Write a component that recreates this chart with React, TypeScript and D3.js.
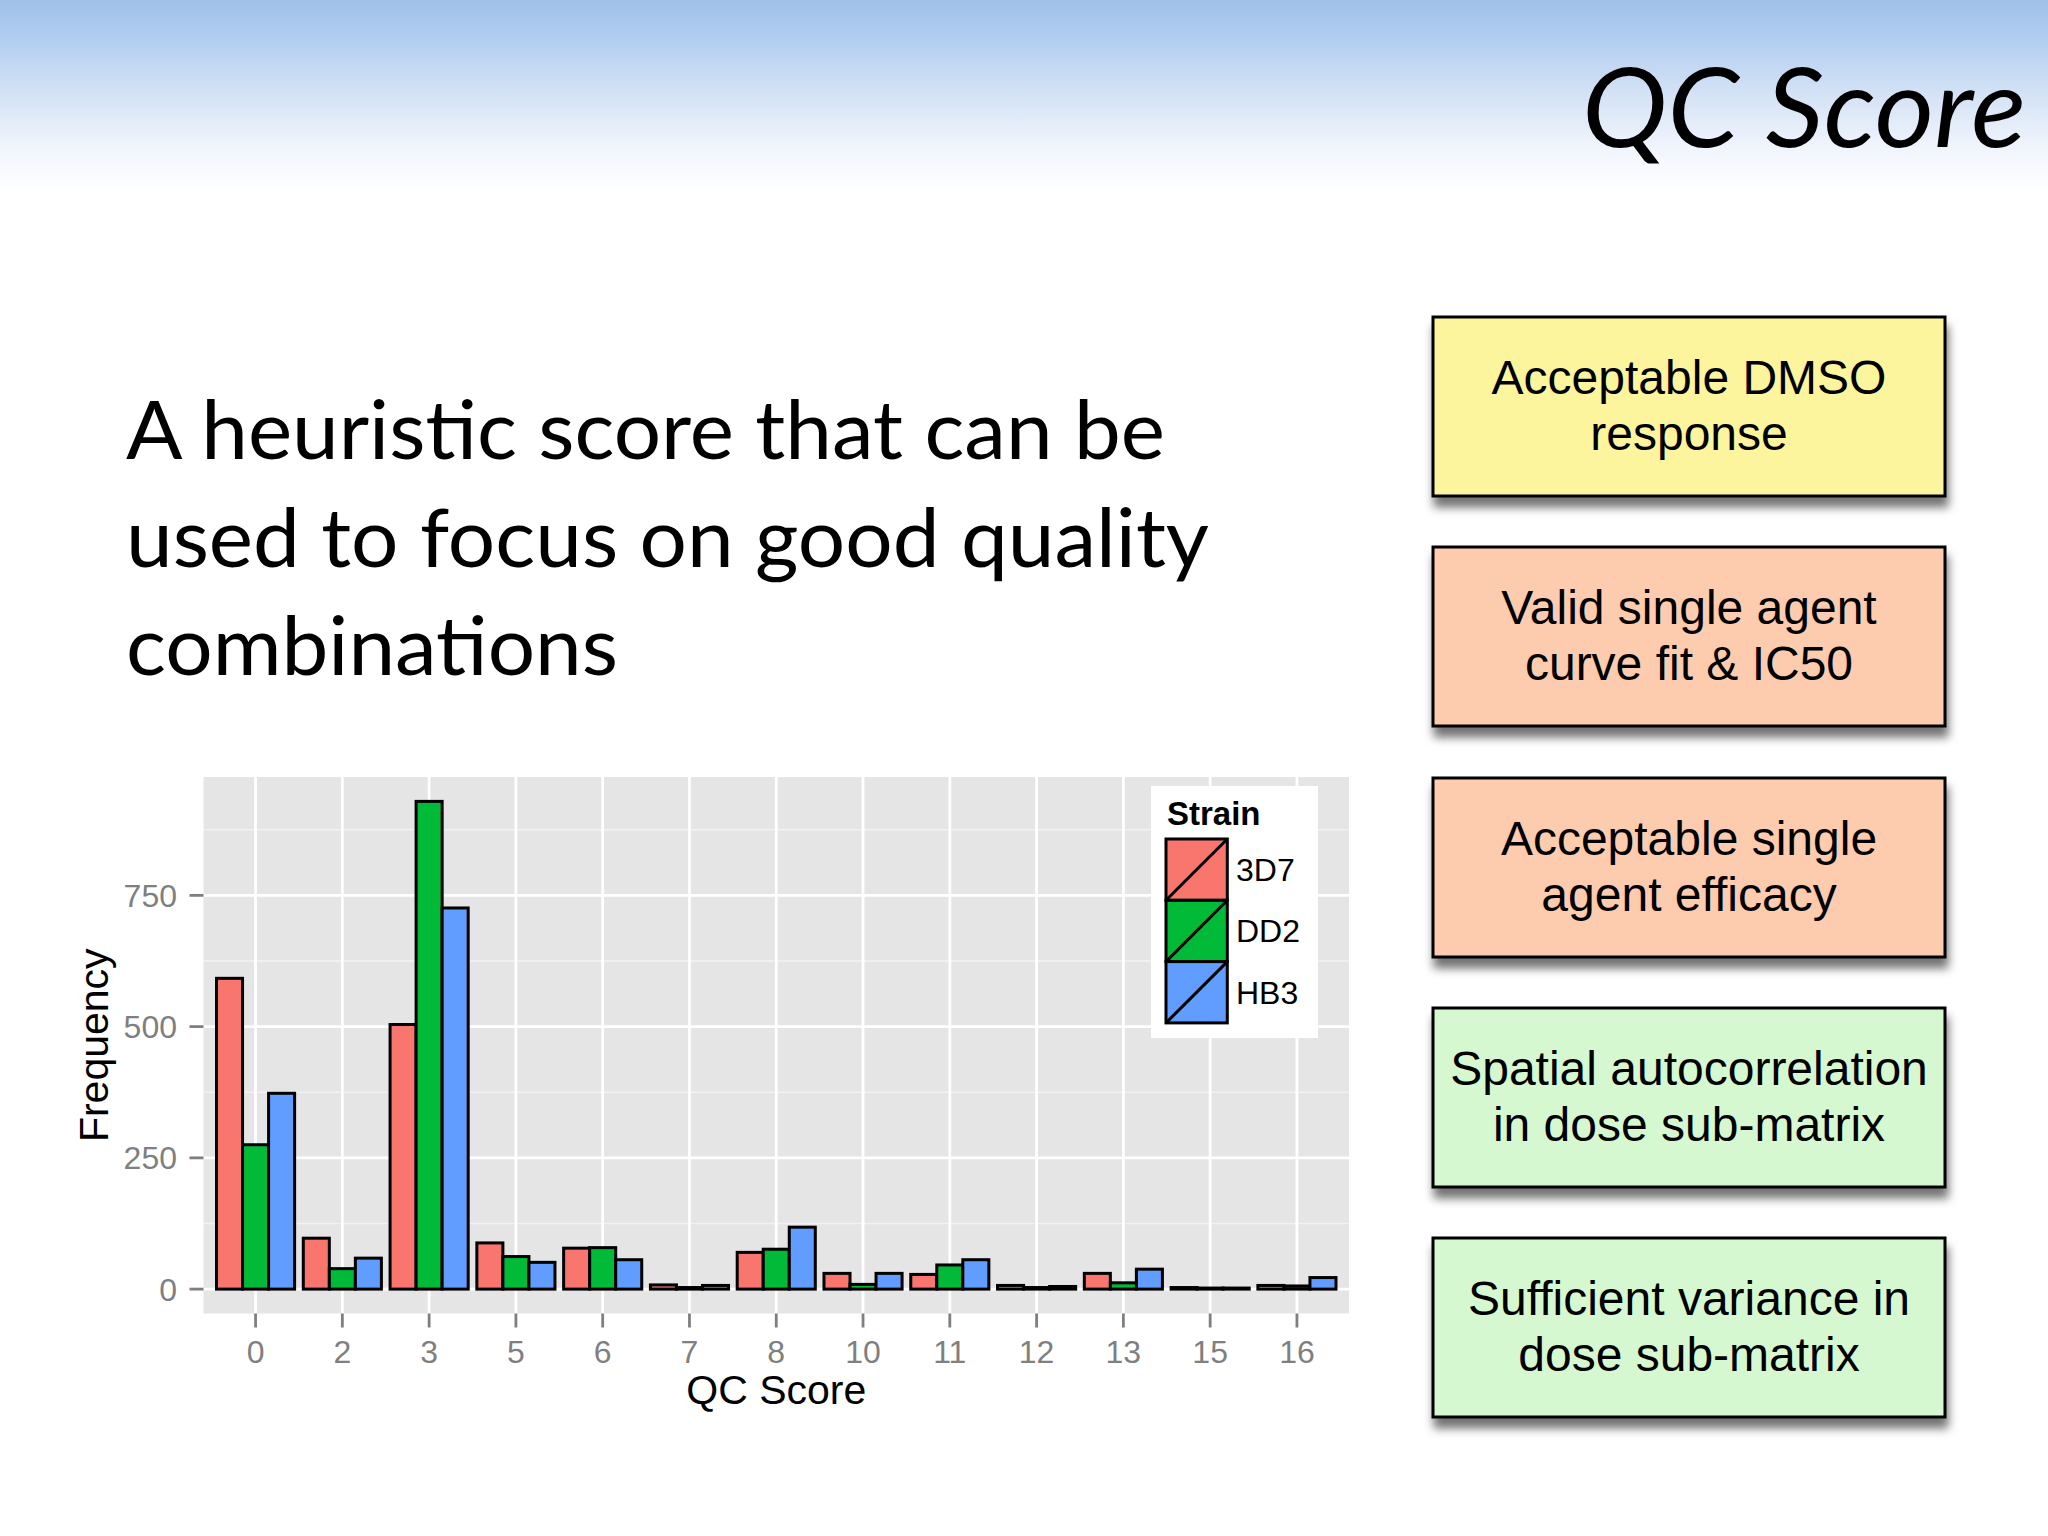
import React from "react";
import * as d3 from "d3";

const categories = ["0", "2", "3", "5", "6", "7", "8", "10", "11", "12", "13", "15", "16"];
const strains = ["3D7", "DD2", "HB3"];
const values3D7 = [592, 97, 504, 88, 78, 8, 70, 30, 28, 7, 30, 3, 7];
const valuesDD2 = [275, 39, 929, 62, 79, 3, 76, 9, 46, 3, 12, 2, 6];
const valuesHB3 = [373, 59, 726, 51, 56, 7, 118, 30, 56, 5, 38, 2, 22];
const seriesValues = [values3D7, valuesDD2, valuesHB3];
const strainColors = ["#F8766D", "#00BA38", "#619CFF"];
const yTicks = [0, 250, 500, 750];
const yMinorTicks = [125, 375, 625, 875];

const slideTitle = "QC Score";
const bodyLines = ["A heuristic score that can be", "used to focus on good quality", "combinations"];
const bodyWidths = [1039, 1083, 492];
const boxTexts = [
  ["Acceptable DMSO", "response"],
  ["Valid single agent", "curve fit & IC50"],
  ["Acceptable single", "agent efficacy"],
  ["Spatial autocorrelation", "in dose sub-matrix"],
  ["Sufficient variance in", "dose sub-matrix"],
];
const boxColors = ["#FCF59D", "#FDCBAE", "#FDCBAE", "#D5F8D0", "#D5F8D0"];

const P = { left: 203.5, right: 1349, top: 777, bottom: 1313.5 };

export default function App() {
  const x = d3.scalePoint<string>().domain(categories).range([P.left, P.right]).padding(0.6);
  const step = x.step();
  const all = seriesValues.flat();
  const maxV = d3.max(all) as number;
  const ex = maxV * 0.05;
  const y = d3.scaleLinear().domain([-ex, maxV + ex]).range([P.bottom, P.top]);
  const barW = step * 0.3;

  const boxX = 1433, boxW = 512, boxH = 179;
  const boxYs = [317, 547, 778, 1008, 1238];

  const legend = { x: 1151, y: 786, w: 167, h: 252, keyX: 1166, keyY: 839, key: 61.3 };

  return (
    <svg
      width={2048}
      height={1536}
      style={{ position: "absolute", left: 0, top: 0, background: "#fff" }}
      xmlns="http://www.w3.org/2000/svg"
    >
      <defs>
        <linearGradient id="hdr" x1="0" y1="0" x2="0" y2="1">
          <stop offset="0" stopColor="#a0c0e8" />
          <stop offset="0.2" stopColor="#b1cdf1" />
          <stop offset="0.45" stopColor="#cfdff4" />
          <stop offset="0.75" stopColor="#eef3fc" />
          <stop offset="1" stopColor="#ffffff" />
        </linearGradient>
        <filter id="shadow" x="-10%" y="-10%" width="120%" height="140%">
          <feDropShadow dx="2" dy="10" stdDeviation="5" floodColor="#000" floodOpacity="0.55" />
        </filter>
      </defs>
      <rect x={0} y={0} width={2048} height={1536} fill="#fff" />
      <rect x={0} y={0} width={2048} height={190} fill="url(#hdr)" />
      <text
        x={2026}
        y={147}
        textAnchor="end"
        fontFamily="Lato, 'Open Sans', sans-serif"
        fontStyle="italic"
        fontSize={111}
        textLength={444}
        lengthAdjust="spacingAndGlyphs"
        fill="#000"
      >
        {slideTitle}
      </text>

      {bodyLines.map((l, i) => (
        <text
          key={l}
          x={126}
          y={459 + i * 108}
          fontFamily="Lato, 'Open Sans', sans-serif"
          fontSize={82}
          textLength={bodyWidths[i]}
          lengthAdjust="spacingAndGlyphs"
          fill="#000"
        >
          {l}
        </text>
      ))}

      {/* Chart panel */}
      <rect x={P.left} y={P.top} width={P.right - P.left} height={P.bottom - P.top} fill="#E5E5E5" />
      {yMinorTicks.map((t) => (
        <line key={"m" + t} x1={P.left} x2={P.right} y1={y(t)} y2={y(t)} stroke="#F2F2F2" strokeWidth={1.4} />
      ))}
      {yTicks.map((t) => (
        <line key={"g" + t} x1={P.left} x2={P.right} y1={y(t)} y2={y(t)} stroke="#fff" strokeWidth={2.8} />
      ))}
      {categories.map((c) => (
        <line key={"v" + c} x1={x(c)} x2={x(c)} y1={P.top} y2={P.bottom} stroke="#fff" strokeWidth={2.8} />
      ))}
      {categories.map((c, ci) =>
        strains.map((s, si) => {
          const v = seriesValues[si][ci];
          const bx = (x(c) as number) - step * 0.45 + si * barW;
          return (
            <rect
              key={c + s}
              x={bx}
              y={y(v)}
              width={barW}
              height={y(0) - y(v)}
              fill={strainColors[si]}
              stroke="#000"
              strokeWidth={3}
            />
          );
        })
      )}
      {/* y axis */}
      {yTicks.map((t) => (
        <g key={"yt" + t}>
          <line x1={P.left - 14} x2={P.left} y1={y(t)} y2={y(t)} stroke="#7F7F7F" strokeWidth={2.8} />
          <text
            x={177}
            y={y(t)}
            dy="0.36em"
            textAnchor="end"
            fontFamily="'Liberation Sans', Arial, sans-serif"
            fontSize={32}
            fill="#7F7F7F"
          >
            {t}
          </text>
        </g>
      ))}
      {categories.map((c) => (
        <g key={"xt" + c}>
          <line x1={x(c)} x2={x(c)} y1={P.bottom} y2={P.bottom + 14} stroke="#7F7F7F" strokeWidth={2.8} />
          <text
            x={x(c)}
            y={1363}
            textAnchor="middle"
            fontFamily="'Liberation Sans', Arial, sans-serif"
            fontSize={32}
            fill="#7F7F7F"
          >
            {c}
          </text>
        </g>
      ))}
      <text
        x={(P.left + P.right) / 2}
        y={1404}
        textAnchor="middle"
        fontFamily="'Liberation Sans', Arial, sans-serif"
        fontSize={41}
        fill="#000"
      >
        QC Score
      </text>
      <text
        transform={`translate(108,${(P.top + P.bottom) / 2}) rotate(-90)`}
        textAnchor="middle"
        fontFamily="'Liberation Sans', Arial, sans-serif"
        fontSize={41}
        fill="#000"
      >
        Frequency
      </text>

      {/* legend */}
      <rect x={legend.x} y={legend.y} width={legend.w} height={legend.h} fill="#fff" />
      <text
        x={1167}
        y={825}
        fontFamily="'Liberation Sans', Arial, sans-serif"
        fontWeight="bold"
        fontSize={33}
        fill="#000"
      >
        Strain
      </text>
      {strains.map((s, i) => {
        const ky = legend.keyY + i * legend.key;
        return (
          <g key={"lg" + s}>
            <rect x={legend.keyX} y={ky} width={legend.key} height={legend.key} fill={strainColors[i]} stroke="#000" strokeWidth={3} />
            <line x1={legend.keyX} y1={ky + legend.key} x2={legend.keyX + legend.key} y2={ky} stroke="#000" strokeWidth={3} />
            <text
              x={1236}
              y={ky + legend.key / 2}
              dy="0.36em"
              fontFamily="'Liberation Sans', Arial, sans-serif"
              fontSize={32}
              fill="#000"
            >
              {s}
            </text>
          </g>
        );
      })}

      {/* right boxes */}
      {boxTexts.map((lines, i) => (
        <g key={"box" + i}>
          <rect
            x={boxX}
            y={boxYs[i]}
            width={boxW}
            height={boxH}
            fill={boxColors[i]}
            stroke="#000"
            strokeWidth={3}
            filter="url(#shadow)"
          />
          {lines.map((l, j) => (
            <text
              key={l}
              x={boxX + boxW / 2}
              y={boxYs[i] + 77 + j * 56}
              textAnchor="middle"
              fontFamily="'Liberation Sans', Arial, sans-serif"
              fontSize={48}
              fill="#000"
            >
              {l}
            </text>
          ))}
        </g>
      ))}
    </svg>
  );
}
